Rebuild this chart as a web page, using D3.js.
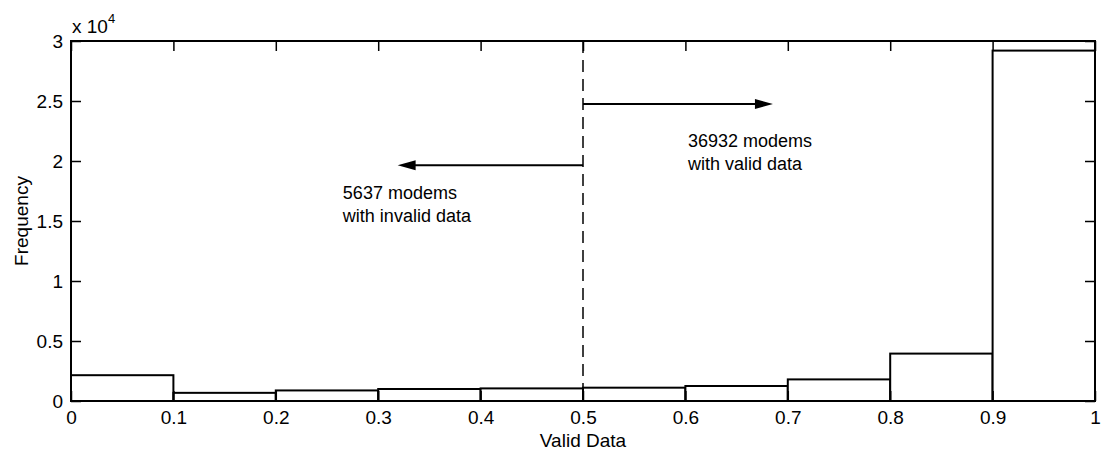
<!DOCTYPE html>
<html><head><meta charset="utf-8">
<script src="https://cdn.jsdelivr.net/npm/d3@7"></script>
<style>
html,body{margin:0;padding:0;background:#fff;}
svg text{font-family:"Liberation Sans",Arial,Helvetica,sans-serif;fill:#000;}
</style></head>
<body><svg id="chart" width="1101" height="451"></svg>
<script>
const binStarts = [0,0.1,0.2,0.3,0.4,0.5,0.6,0.7,0.8,0.9];
const binWidth = 0.1;
const frequencies = [2150,680,880,1000,1050,1110,1250,1800,3950,29200];
const xTicks = [0,0.1,0.2,0.3,0.4,0.5,0.6,0.7,0.8,0.9,1];
const yTicks = [0,5000,10000,15000,20000,25000,30000];
const yTickLabels = ["0","0.5","1","1.5","2","2.5","3"];
const threshold = 0.5;
const annValidArrow = {y:24750, tip:0.6855};
const annInvalidArrow = {y:19650, tip:0.319};
const annValidText = ["36932 modems","with valid data"];
const annInvalidText = ["5637 modems","with invalid data"];

const svg = d3.select("#chart");
const m = {l:71, r:1095, t:41, b:401};
const x = d3.scaleLinear().domain([0,1]).range([m.l,m.r]);
const y = d3.scaleLinear().domain([0,30000]).range([m.b,m.t]);

// bars
svg.append("g").selectAll("rect").data(binStarts).join("rect")
  .attr("x", d=>x(d)).attr("width", d=>x(d+binWidth)-x(d))
  .attr("y", (d,i)=>y(frequencies[i])).attr("height",(d,i)=>y(0)-y(frequencies[i]))
  .attr("fill","#fff").attr("stroke","#000").attr("stroke-width",2);

// frame
svg.append("rect").attr("x",m.l).attr("y",m.t).attr("width",m.r-m.l).attr("height",m.b-m.t)
  .attr("fill","none").attr("stroke","#000").attr("stroke-width",2);

const fs = 19;
// x axis
const xa = svg.append("g").attr("transform",`translate(0,${m.b})`)
  .call(d3.axisBottom(x).tickValues(xTicks).tickSizeInner(-10).tickSizeOuter(0).tickPadding(10).tickFormat(d=>d3.format("")(d)));
const xt = svg.append("g").attr("transform",`translate(0,${m.t})`)
  .call(d3.axisTop(x).tickValues(xTicks).tickSizeInner(-10).tickSizeOuter(0).tickFormat(""));
const ya = svg.append("g").attr("transform",`translate(${m.l},0)`)
  .call(d3.axisLeft(y).tickValues(yTicks).tickSizeInner(-10).tickSizeOuter(0).tickPadding(8).tickFormat((d,i)=>yTickLabels[i]));
const yr = svg.append("g").attr("transform",`translate(${m.r},0)`)
  .call(d3.axisRight(y).tickValues(yTicks).tickSizeInner(-10).tickSizeOuter(0).tickFormat(""));
[xa,xt,ya,yr].forEach(g=>{
  g.select(".domain").remove();
  g.selectAll("line").attr("stroke","#000").attr("stroke-width",1.5);
  g.selectAll("text").attr("font-size",fs).attr("font-family","Liberation Sans, Arial, sans-serif").attr("fill","#000");
});
xa.selectAll("text").attr("dy","0.71em");

// exponent label
const ex = svg.append("text").attr("x",m.l+1).attr("y",33).attr("font-size",fs);
ex.append("tspan").text("x 10");
ex.append("tspan").attr("font-size",13).attr("dy",-10).text("4");

// axis labels
svg.append("text").attr("x",(m.l+m.r)/2).attr("y",447).attr("text-anchor","middle").attr("font-size",fs).text("Valid Data");
svg.append("text").attr("transform",`translate(28,${(m.t+m.b)/2}) rotate(-90)`).attr("text-anchor","middle").attr("font-size",fs).text("Frequency");

// dashed threshold line
svg.append("line").attr("x1",x(threshold)).attr("x2",x(threshold)).attr("y1",m.t).attr("y2",y(frequencies[5]))
  .attr("stroke","#000").attr("stroke-width",1.5).attr("stroke-dasharray","12,7");

// arrows
function arrow(yv, tip){
  const x0 = x(threshold), x1 = x(tip), yy = y(yv);
  const dir = Math.sign(x1-x0);
  svg.append("line").attr("x1",x0).attr("x2",x1-dir*14).attr("y1",yy).attr("y2",yy).attr("stroke","#000").attr("stroke-width",2);
  svg.append("path").attr("d",`M${x1},${yy} L${x1-dir*18},${yy-5} L${x1-dir*18},${yy+5} Z`).attr("fill","#000");
}
arrow(annValidArrow.y, annValidArrow.tip);
arrow(annInvalidArrow.y, annInvalidArrow.tip);

const afs = 18;
function label(lines, xv, y0){
  const t = svg.append("text").attr("x",x(xv)).attr("y",y0).attr("font-size",afs);
  lines.forEach((s,i)=>t.append("tspan").attr("x",x(xv)).attr("dy",i?23:0).text(s));
}
label(annValidText, 0.6025, 147);
label(annInvalidText, 0.2655, 199);
</script></body></html>
